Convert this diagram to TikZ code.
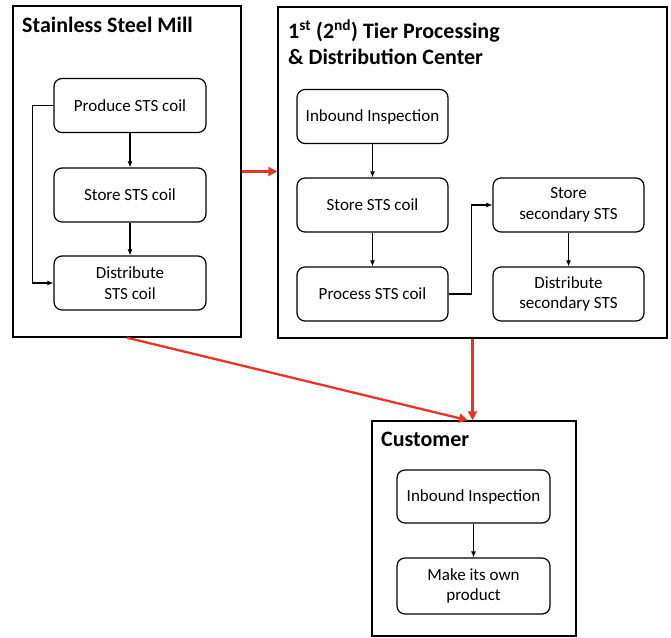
\documentclass[tikz,border=0pt]{standalone}
\usepackage{fontspec}
\setmainfont{Carlito}
\usetikzlibrary{arrows.meta}
\definecolor{flowred}{RGB}{232,52,38}

\begin{document}
\begin{tikzpicture}[x = 1pt, y = -1pt,
    frame/.style = {draw, line width = 1.4pt, inner sep = 0pt},
    task/.style = {draw, rounded corners = 8pt, line width = 1.2pt, minimum width = 152pt,
      minimum height = 54pt, inner sep = 2pt, align = center, font = \fontsize{17}{20.4}\selectfont},
    title/.style = {anchor = west, inner sep = 0pt, align = left, font = \fontsize{22}{26}\selectfont\bfseries},
    flow/.style = {-{Latex[length = 6pt, width = 5pt]}, line width = 1.1pt},
    supply/.style = {-{Triangle[length = 9pt, width = 9pt]}, line width = 2.3pt, flowred}]
    \useasboundingbox (0,0) rectangle (671,637);

    % stainless steel mill
    \node [frame, minimum width = 228pt, minimum height = 331pt] (mill) at (127,171.5) {};
    \node [title] (milltitle) at (22,25) {Stainless Steel Mill};
    \node [task] (produce) at (130,105.5) {Produce STS coil};
    \node [task] (millstore) at (130,195) {Store STS coil};
    \node [task] (milldist) at (130,283) {Distribute\\STS coil};
    \draw [flow] (produce) -- (millstore);
    \draw [flow] (millstore) -- (milldist);
    \draw [flow] (produce.west) -- ++(-21,0) |- (milldist.west);

    % processing and distribution center
    \node [frame, minimum width = 389pt, minimum height = 331pt] (center) at (472.5,172.5) {};
    \node [title] (centertitle) at (288,42) {1\textsuperscript{st} (2\textsuperscript{nd}) Tier Processing\\\& Distribution Center};
    \node [task, minimum width = 151pt] (inspect) at (372.5,116.5) {Inbound Inspection};
    \node [task, minimum width = 151pt] (centerstore) at (372.5,205) {Store STS coil};
    \node [task, minimum width = 151pt] (process) at (372.5,294) {Process STS coil};
    \node [task, minimum width = 151pt] (secstore) at (568.5,205) {Store\\secondary STS};
    \node [task, minimum width = 151pt] (secdist) at (568.5,294) {Distribute\\secondary STS};
    \draw [flow] (inspect) -- (centerstore);
    \draw [flow] (centerstore) -- (process);
    \draw [flow] (process.east) -- ++(23,0) |- (secstore.west);
    \draw [flow] (secstore) -- (secdist);

    % customer
    \node [frame, minimum width = 204pt, minimum height = 215pt] (customer) at (474,528.5) {};
    \node [title] (customertitle) at (381,439) {Customer};
    \node [task, minimum width = 153pt, minimum height = 53pt] (custinspect) at (473.5,496.5) {Inbound Inspection};
    \node [task, minimum width = 153pt, minimum height = 56pt] (make) at (473.5,586) {Make its own\\product};
    \draw [flow] (custinspect) -- (make);

    % supply chain
    \draw [supply] (mill.east) -- (mill.east -| center.west);
    \draw [supply] (mill.south) -- ([xshift = -6pt]customer.north);
    \draw [supply] (center.south) -- (center.south |- customer.north);
\end{tikzpicture}
\end{document}
